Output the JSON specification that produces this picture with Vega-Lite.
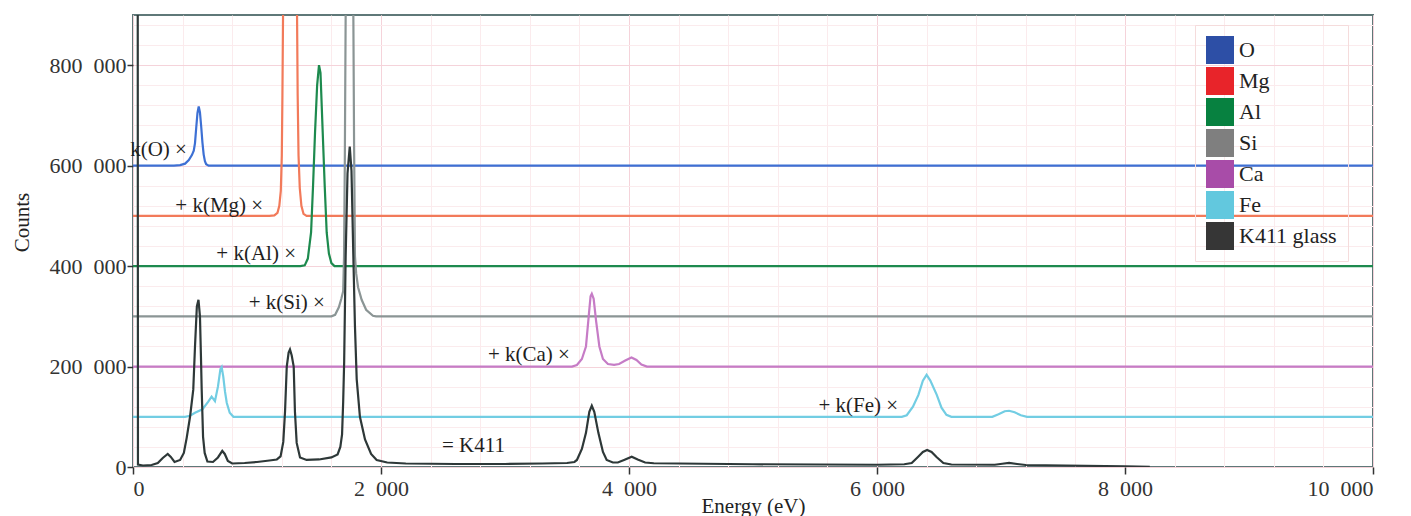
{
  "$schema": "https://vega.github.io/schema/vega-lite/v6.json",
  "width": 1240,
  "height": 452,
  "autosize": {"type": "none"},
  "padding": {"left": 133, "top": 15, "right": 38, "bottom": 49},
  "background": "white",
  "config": {
    "font": "Liberation Serif",
    "view": {"fill": "#fffdf2", "stroke": "#5f7878", "strokeWidth": 2}
  },
  "datasets": {
    "spectra": [
      {"s":"O","e":0,"c":600000},{"s":"O","e":330,"c":600000},{"s":"O","e":380,"c":601000},{"s":"O","e":420,"c":604000},{"s":"O","e":450,"c":611000},{"s":"O","e":475,"c":621000},{"s":"O","e":490,"c":630000},{"s":"O","e":500,"c":645000},{"s":"O","e":510,"c":676000},{"s":"O","e":520,"c":705000},{"s":"O","e":530,"c":718000},{"s":"O","e":540,"c":706000},{"s":"O","e":550,"c":678000},{"s":"O","e":560,"c":646000},{"s":"O","e":570,"c":622000},{"s":"O","e":580,"c":609000},{"s":"O","e":590,"c":603000},{"s":"O","e":610,"c":600000},{"s":"O","e":10000,"c":600000},
      {"s":"Mg","e":0,"c":500000},{"s":"Mg","e":1100,"c":500000},{"s":"Mg","e":1140,"c":501000},{"s":"Mg","e":1165,"c":506000},{"s":"Mg","e":1180,"c":520000},{"s":"Mg","e":1192,"c":550000},{"s":"Mg","e":1200,"c":620000},{"s":"Mg","e":1205,"c":740000},{"s":"Mg","e":1210,"c":900000},{"s":"Mg","e":1225,"c":1300000},{"s":"Mg","e":1265,"c":1600000},{"s":"Mg","e":1305,"c":1300000},{"s":"Mg","e":1323,"c":900000},{"s":"Mg","e":1328,"c":740000},{"s":"Mg","e":1335,"c":620000},{"s":"Mg","e":1345,"c":555000},{"s":"Mg","e":1358,"c":520000},{"s":"Mg","e":1375,"c":504000},{"s":"Mg","e":1400,"c":500000},{"s":"Mg","e":10000,"c":500000},
      {"s":"Al","e":0,"c":400000},{"s":"Al","e":1350,"c":400000},{"s":"Al","e":1385,"c":401500},{"s":"Al","e":1410,"c":415000},{"s":"Al","e":1436,"c":467000},{"s":"Al","e":1452,"c":560000},{"s":"Al","e":1468,"c":666000},{"s":"Al","e":1485,"c":760000},{"s":"Al","e":1500,"c":800000},{"s":"Al","e":1512,"c":785000},{"s":"Al","e":1530,"c":666000},{"s":"Al","e":1546,"c":560000},{"s":"Al","e":1562,"c":467000},{"s":"Al","e":1580,"c":425000},{"s":"Al","e":1600,"c":406000},{"s":"Al","e":1625,"c":400000},{"s":"Al","e":10000,"c":400000},
      {"s":"Si","e":0,"c":300000},{"s":"Si","e":1600,"c":300000},{"s":"Si","e":1630,"c":303000},{"s":"Si","e":1660,"c":318000},{"s":"Si","e":1680,"c":335000},{"s":"Si","e":1695,"c":350000},{"s":"Si","e":1702,"c":420000},{"s":"Si","e":1708,"c":600000},{"s":"Si","e":1715,"c":900000},{"s":"Si","e":1745,"c":1700000},{"s":"Si","e":1777,"c":900000},{"s":"Si","e":1783,"c":640000},{"s":"Si","e":1790,"c":420000},{"s":"Si","e":1800,"c":385000},{"s":"Si","e":1815,"c":358000},{"s":"Si","e":1844,"c":333000},{"s":"Si","e":1880,"c":313000},{"s":"Si","e":1935,"c":301000},{"s":"Si","e":1960,"c":300000},{"s":"Si","e":10000,"c":300000},
      {"s":"Ca","e":0,"c":200000},{"s":"Ca","e":3540,"c":200000},{"s":"Ca","e":3580,"c":203000},{"s":"Ca","e":3620,"c":215000},{"s":"Ca","e":3653,"c":240000},{"s":"Ca","e":3675,"c":300000},{"s":"Ca","e":3690,"c":340000},{"s":"Ca","e":3700,"c":345000},{"s":"Ca","e":3715,"c":335000},{"s":"Ca","e":3735,"c":290000},{"s":"Ca","e":3761,"c":240000},{"s":"Ca","e":3790,"c":215000},{"s":"Ca","e":3830,"c":205000},{"s":"Ca","e":3880,"c":203500},{"s":"Ca","e":3920,"c":205000},{"s":"Ca","e":3970,"c":212000},{"s":"Ca","e":4020,"c":218000},{"s":"Ca","e":4060,"c":213000},{"s":"Ca","e":4100,"c":204000},{"s":"Ca","e":4145,"c":200000},{"s":"Ca","e":10000,"c":200000},
      {"s":"Fe","e":0,"c":100000},{"s":"Fe","e":420,"c":100000},{"s":"Fe","e":460,"c":102000},{"s":"Fe","e":500,"c":108000},{"s":"Fe","e":560,"c":115000},{"s":"Fe","e":607,"c":130000},{"s":"Fe","e":634,"c":140000},{"s":"Fe","e":661,"c":131000},{"s":"Fe","e":685,"c":160000},{"s":"Fe","e":705,"c":195000},{"s":"Fe","e":715,"c":199000},{"s":"Fe","e":728,"c":180000},{"s":"Fe","e":742,"c":150000},{"s":"Fe","e":756,"c":128000},{"s":"Fe","e":780,"c":108000},{"s":"Fe","e":810,"c":100000},{"s":"Fe","e":6200,"c":100000},{"s":"Fe","e":6240,"c":103000},{"s":"Fe","e":6290,"c":120000},{"s":"Fe","e":6334,"c":143600},{"s":"Fe","e":6370,"c":172000},{"s":"Fe","e":6400,"c":183500},{"s":"Fe","e":6430,"c":172000},{"s":"Fe","e":6482,"c":143600},{"s":"Fe","e":6520,"c":118000},{"s":"Fe","e":6560,"c":104000},{"s":"Fe","e":6600,"c":100000},{"s":"Fe","e":6930,"c":100000},{"s":"Fe","e":6980,"c":105000},{"s":"Fe","e":7030,"c":111000},{"s":"Fe","e":7065,"c":112000},{"s":"Fe","e":7110,"c":109000},{"s":"Fe","e":7160,"c":103000},{"s":"Fe","e":7210,"c":100000},{"s":"Fe","e":10000,"c":100000},
      {"s":"K411 glass","e":20,"c":1500000},{"s":"K411 glass","e":37,"c":1500000},{"s":"K411 glass","e":40,"c":5000},{"s":"K411 glass","e":80,"c":3000},{"s":"K411 glass","e":150,"c":4000},{"s":"K411 glass","e":200,"c":8000},{"s":"K411 glass","e":240,"c":18000},{"s":"K411 glass","e":280,"c":26000},{"s":"K411 glass","e":305,"c":20000},{"s":"K411 glass","e":335,"c":10000},{"s":"K411 glass","e":380,"c":14000},{"s":"K411 glass","e":410,"c":28000},{"s":"K411 glass","e":433,"c":58000},{"s":"K411 glass","e":460,"c":100000},{"s":"K411 glass","e":486,"c":154000},{"s":"K411 glass","e":500,"c":240000},{"s":"K411 glass","e":515,"c":320000},{"s":"K411 glass","e":528,"c":333000},{"s":"K411 glass","e":540,"c":300000},{"s":"K411 glass","e":548,"c":220000},{"s":"K411 glass","e":554,"c":154000},{"s":"K411 glass","e":565,"c":60000},{"s":"K411 glass","e":578,"c":28000},{"s":"K411 glass","e":600,"c":11000},{"s":"K411 glass","e":645,"c":10000},{"s":"K411 glass","e":685,"c":19000},{"s":"K411 glass","e":720,"c":32000},{"s":"K411 glass","e":740,"c":26000},{"s":"K411 glass","e":765,"c":12000},{"s":"K411 glass","e":800,"c":7000},{"s":"K411 glass","e":900,"c":8000},{"s":"K411 glass","e":1000,"c":10000},{"s":"K411 glass","e":1100,"c":13000},{"s":"K411 glass","e":1160,"c":15000},{"s":"K411 glass","e":1190,"c":21000},{"s":"K411 glass","e":1212,"c":50000},{"s":"K411 glass","e":1226,"c":110000},{"s":"K411 glass","e":1240,"c":200000},{"s":"K411 glass","e":1255,"c":228000},{"s":"K411 glass","e":1266,"c":234000},{"s":"K411 glass","e":1280,"c":222000},{"s":"K411 glass","e":1296,"c":200000},{"s":"K411 glass","e":1306,"c":110000},{"s":"K411 glass","e":1320,"c":48000},{"s":"K411 glass","e":1347,"c":19000},{"s":"K411 glass","e":1400,"c":14000},{"s":"K411 glass","e":1500,"c":15000},{"s":"K411 glass","e":1600,"c":19000},{"s":"K411 glass","e":1650,"c":25000},{"s":"K411 glass","e":1672,"c":40000},{"s":"K411 glass","e":1686,"c":65000},{"s":"K411 glass","e":1695,"c":130000},{"s":"K411 glass","e":1703,"c":210000},{"s":"K411 glass","e":1715,"c":420000},{"s":"K411 glass","e":1730,"c":585000},{"s":"K411 glass","e":1748,"c":638000},{"s":"K411 glass","e":1762,"c":590000},{"s":"K411 glass","e":1776,"c":430000},{"s":"K411 glass","e":1790,"c":280000},{"s":"K411 glass","e":1804,"c":175000},{"s":"K411 glass","e":1830,"c":100000},{"s":"K411 glass","e":1871,"c":55000},{"s":"K411 glass","e":1920,"c":26000},{"s":"K411 glass","e":1965,"c":14000},{"s":"K411 glass","e":2050,"c":9000},{"s":"K411 glass","e":2200,"c":7000},{"s":"K411 glass","e":2600,"c":6000},{"s":"K411 glass","e":3000,"c":6000},{"s":"K411 glass","e":3300,"c":7000},{"s":"K411 glass","e":3500,"c":8000},{"s":"K411 glass","e":3560,"c":10000},{"s":"K411 glass","e":3580,"c":14000},{"s":"K411 glass","e":3620,"c":36000},{"s":"K411 glass","e":3653,"c":68000},{"s":"K411 glass","e":3680,"c":110000},{"s":"K411 glass","e":3700,"c":122000},{"s":"K411 glass","e":3720,"c":110000},{"s":"K411 glass","e":3753,"c":68000},{"s":"K411 glass","e":3790,"c":30000},{"s":"K411 glass","e":3820,"c":14000},{"s":"K411 glass","e":3870,"c":9000},{"s":"K411 glass","e":3910,"c":9000},{"s":"K411 glass","e":3960,"c":14000},{"s":"K411 glass","e":4022,"c":20500},{"s":"K411 glass","e":4070,"c":15000},{"s":"K411 glass","e":4130,"c":9000},{"s":"K411 glass","e":4200,"c":7500},{"s":"K411 glass","e":5000,"c":5500},{"s":"K411 glass","e":6000,"c":4500},{"s":"K411 glass","e":6220,"c":5500},{"s":"K411 glass","e":6280,"c":8000},{"s":"K411 glass","e":6330,"c":20000},{"s":"K411 glass","e":6370,"c":30000},{"s":"K411 glass","e":6404,"c":34000},{"s":"K411 glass","e":6440,"c":30000},{"s":"K411 glass","e":6480,"c":20000},{"s":"K411 glass","e":6535,"c":8000},{"s":"K411 glass","e":6600,"c":5000},{"s":"K411 glass","e":6950,"c":4500},{"s":"K411 glass","e":7010,"c":6500},{"s":"K411 glass","e":7065,"c":8000},{"s":"K411 glass","e":7130,"c":6000},{"s":"K411 glass","e":7200,"c":4000},{"s":"K411 glass","e":8000,"c":1500},{"s":"K411 glass","e":8200,"c":500}
    ],
    "labels": [
      {"t":"k(O) ×","e":435,"c":632000},
      {"t":"+ k(Mg) ×","e":1050,"c":520000},
      {"t":"+ k(Al) ×","e":1315,"c":425000},
      {"t":"+ k(Si) ×","e":1548,"c":327000},
      {"t":"+ k(Ca) ×","e":3524,"c":224000},
      {"t":"+ k(Fe) ×","e":6170,"c":121000},
      {"t":"= K411","e":3000,"c":41000}
    ],
    "keys": [
      {"k":"O"},{"k":"Mg"},{"k":"Al"},{"k":"Si"},{"k":"Ca"},{"k":"Fe"},{"k":"K411 glass"}
    ]
  },
  "layer": [
    {
      "data": {"name": "spectra"},
      "mark": {"type": "line", "clip": true, "strokeWidth": 2.2},
      "encoding": {
        "x": {"field": "e", "type": "quantitative", "scale": {"domain": [0, 10000], "nice": false},
          "axis": {"orient": "top", "grid": true, "labels": false, "ticks": false, "domain": false, "title": null,
            "gridColor": "#fbebed", "gridWidth": 1,
            "values": [0,400,800,1200,1600,2000,2400,2800,3200,3600,4000,4400,4800,5200,5600,6000,6400,6800,7200,7600,8000,8400,8800,9200,9600,10000]}},
        "y": {"field": "c", "type": "quantitative", "scale": {"domain": [0, 900000], "nice": false},
          "axis": {"orient": "right", "grid": true, "labels": false, "ticks": false, "domain": false, "title": null,
            "gridColor": "#fbebed", "gridWidth": 1,
            "values": [0,40000,80000,120000,160000,200000,240000,280000,320000,360000,400000,440000,480000,520000,560000,600000,640000,680000,720000,760000,800000,840000,880000]}},
        "color": {"field": "s", "type": "nominal", "legend": null,
          "scale": {"domain": ["K411 glass","Fe","Ca","Si","Al","Mg","O"],
            "range": ["#2e3838","#72cde3","#c67cc6","#8b9595","#1d8a4e","#f27a5a","#3d70d4"]}}
      }
    },
    {
      "data": {"name": "labels"},
      "mark": {"type": "text", "align": "right", "baseline": "middle", "fontSize": 21, "font": "Liberation Serif", "color": "#1e1e1e"},
      "encoding": {
        "x": {"field": "e", "type": "quantitative", "scale": {"domain": [0, 10000], "nice": false},
          "axis": {"orient": "bottom", "values": [0,2000,4000,6000,8000,10000], "grid": true, "gridColor": "#f5d3da", "gridWidth": 1,
            "domain": false, "tickSize": 7, "tickColor": "#333333", "tickWidth": 1.5,
            "labelFontSize": 22, "labelFont": "Liberation Serif", "labelColor": "#333333", "labelPadding": 4,
            "labelExpr": "replace(format(datum.value, ','), ',', '\u2007')",
            "title": "Energy (eV)", "titleFont": "Liberation Serif", "titleFontSize": 21, "titleFontWeight": "normal", "titleColor": "#222222",
            "titleBaseline": "alphabetic", "titleY": 45, "titleX": 620, "titleAlign": "center"}},
        "y": {"field": "c", "type": "quantitative", "scale": {"domain": [0, 900000], "nice": false},
          "axis": {"orient": "left", "values": [0,200000,400000,600000,800000], "grid": true, "gridColor": "#f5d3da", "gridWidth": 1,
            "domain": false, "tickSize": 6, "tickColor": "#333333", "tickWidth": 1.5,
            "labelFontSize": 22, "labelFont": "Liberation Serif", "labelColor": "#333333", "labelPadding": 1,
            "labelExpr": "replace(format(datum.value, ','), ',', '\u2007')",
            "title": "Counts", "titleFont": "Liberation Serif", "titleFontSize": 21, "titleFontWeight": "normal", "titleColor": "#222222",
            "titleAngle": -90, "titleBaseline": "alphabetic", "titleX": -105, "titleY": 207, "titleAlign": "center"}},
        "text": {"field": "t", "type": "nominal"}
      }
    },
    {
      "data": {"name": "keys"},
      "transform": [{"filter": "datum.k == 'none'"}],
      "mark": {"type": "point", "shape": "square", "filled": true},
      "encoding": {
        "fill": {"field": "k", "type": "nominal",
          "scale": {"domain": ["O","Mg","Al","Si","Ca","Fe","K411 glass"],
            "range": ["#2d4fa6","#e8242a","#078140","#7f7f7f","#a84ca8","#62c8de","#363636"]},
          "legend": {"title": null, "orient": "none", "legendX": 1062, "legendY": 10,
            "symbolType": "square", "symbolSize": 784, "symbolStrokeWidth": 0, "symbolOpacity": 1,
            "labelFont": "Liberation Serif", "labelFontSize": 22, "labelColor": "#222222",
            "labelOffset": 5, "rowPadding": 3, "padding": 11, "strokeColor": "#f5dcdc"}}
      }
    }
  ],
  "resolve": {"axis": {"x": "independent", "y": "independent"}}
}
